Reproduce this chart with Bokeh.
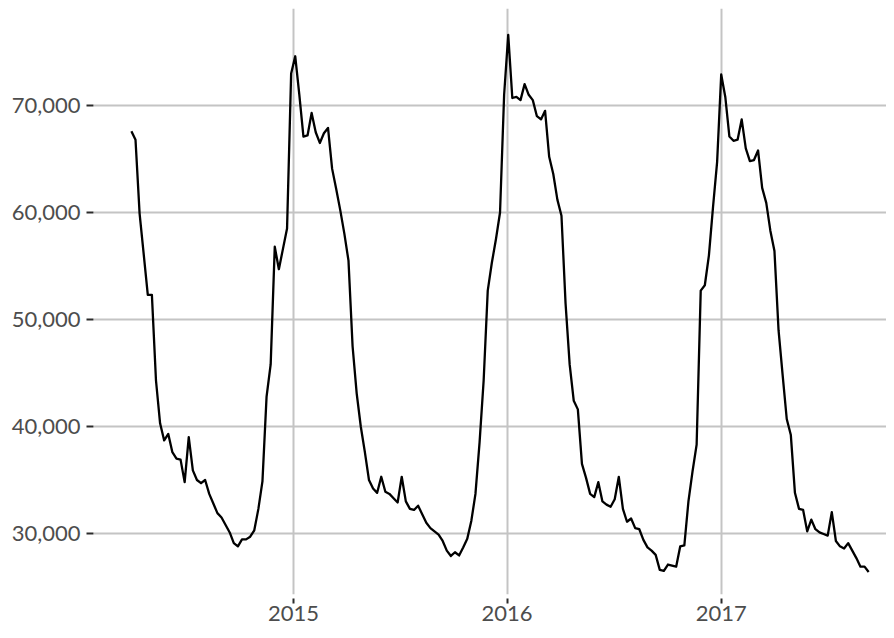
import pandas as pd
from bokeh.plotting import figure
from bokeh.models import FixedTicker, NumeralTickFormatter, DatetimeTickFormatter, Range1d
from bokeh.embed import file_html
from bokeh.resources import INLINE

# Weekly values
first_week = "2014-03-30"
values = [
    67600, 66800, 59900, 56100, 52300, 52300, 44300, 40300, 38700, 39300,
    37600, 37000, 36900, 34800, 39000, 35900, 35000, 34700, 35000, 33700,
    32800, 31900, 31500, 30800, 30100, 29100, 28800, 29450, 29450, 29700,
    30300, 32300, 34900, 42800, 45800, 56800, 54700, 56600, 58500, 73000,
    74600, 71000, 67100, 67200, 69300, 67500, 66500, 67400, 67900, 64100,
    62200, 60200, 58000, 55500, 47500, 43100, 40000, 37600, 35000, 34200,
    33800, 35300, 33900, 33700, 33300, 32900, 35300, 33000, 32300, 32200,
    32600, 31800, 31000, 30500, 30200, 29900, 29300, 28400, 27900, 28250,
    27950, 28700, 29500, 31200, 33700, 38500, 44300, 52700, 55300, 57500,
    60000, 71000, 76600, 70700, 70800, 70500, 72000, 71000, 70500, 69000,
    68700, 69500, 65200, 63600, 61200, 59700, 51500, 45800, 42400, 41600,
    36500, 35200, 33700, 33400, 34800, 33000, 32700, 32500, 33200, 35300,
    32300, 31100, 31400, 30500, 30400, 29400, 28700, 28400, 28000, 26600,
    26500, 27100, 27000, 26900, 28800, 28900, 33000, 35800, 38300, 52700,
    53200, 56000, 60500, 64700, 72900, 70800, 67100, 66700, 66800, 68700,
    66000, 64800, 64900, 65800, 62300, 60900, 58300, 56400, 49000, 44800,
    40700, 39200, 33800, 32300, 32200, 30200, 31300, 30400, 30100, 29950,
    29800, 32000, 29300, 28800, 28600, 29100, 28400, 27700, 26900, 26900,
    26400,
]
year_ticks = ["2015-01-01", "2016-01-01", "2017-01-01"]
y_ticks = [30000, 40000, 50000, 60000, 70000]

dates = pd.date_range(first_week, periods=len(values), freq="7D")
x_start = pd.Timestamp("2014-01-24 05:00")
x_end = pd.Timestamp("2017-10-10 12:00")

p = figure(
    width=886, height=630, output_backend="svg", toolbar_location=None,
    x_axis_type="datetime",
    x_range=Range1d(x_start, x_end),
    y_range=Range1d(24299, 79065),
    min_border_left=93, min_border_right=0, min_border_top=8, min_border_bottom=36,
)
p.outline_line_color = None
p.background_fill_color = "white"
p.border_fill_color = "white"

p.line(dates, values, line_color="black", line_width=2.3, line_join="round")

xt = [pd.Timestamp(d).value // 10**6 for d in year_ticks]
p.xaxis.ticker = FixedTicker(ticks=xt)
p.xaxis.formatter = DatetimeTickFormatter(
    microseconds="%Y", milliseconds="%Y", seconds="%Y", minsec="%Y", minutes="%Y",
    hourmin="%Y", hours="%Y", days="%Y", months="%Y", years="%Y",
)
p.yaxis.ticker = FixedTicker(ticks=y_ticks)
p.yaxis.formatter = NumeralTickFormatter(format="0,0")

for ax in (p.xaxis, p.yaxis):
    ax.axis_line_color = None
    ax.minor_tick_line_color = None
    ax.major_tick_line_color = "#2b2b2b"
    ax.major_tick_line_width = 2
    ax.major_label_text_font = "Lato"
    ax.major_label_text_font_size = "22px"
    ax.major_label_text_color = "#4d4d4d"

p.xaxis.major_tick_in = -4
p.xaxis.major_tick_out = 9
p.xaxis.major_label_standoff = 2
p.yaxis.major_tick_in = 0
p.yaxis.major_tick_out = 7
p.yaxis.major_label_standoff = 6

p.xgrid.ticker = FixedTicker(ticks=xt)
p.ygrid.ticker = FixedTicker(ticks=y_ticks)
for g in (p.xgrid, p.ygrid):
    g.grid_line_color = "#c4c4c4"
    g.grid_line_width = 2

open("out.html", "w").write(file_html(p, INLINE))
